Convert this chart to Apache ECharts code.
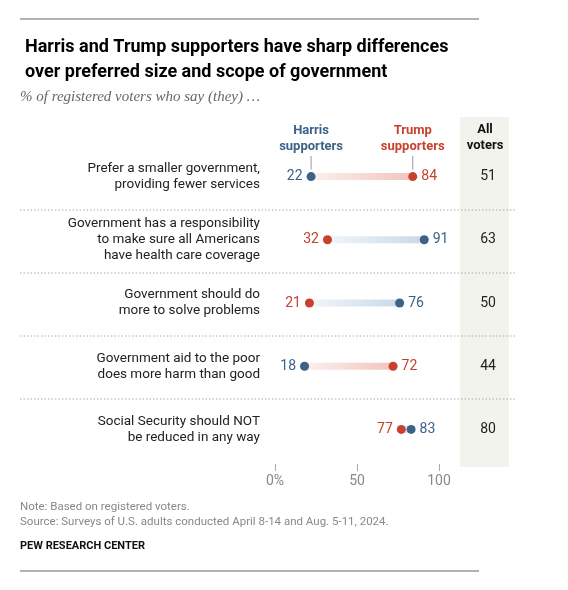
<!DOCTYPE html>
<html>
<head>
<meta charset="utf-8">
<script src="https://cdn.jsdelivr.net/npm/echarts@6/dist/echarts.min.js"></script>
<style>
  html, body { margin: 0; padding: 0; background: #fff; }
  #chart { width: 568px; height: 590px; }
</style>
</head>
<body>
<div id="chart"></div>
<script>
(function () {

    var statements = [
        'Prefer a smaller government,\nproviding fewer services',
        'Government has a responsibility\nto make sure all Americans\nhave health care coverage',
        'Government should do\nmore to solve problems',
        'Government aid to the poor\ndoes more harm than good',
        'Social Security should NOT\nbe reduced in any way'
    ];
    var harrisValues = [22, 91, 76, 18, 83];
    var trumpValues = [84, 32, 21, 72, 77];
    var allVoters = [51, 63, 50, 44, 80];
    var tickValues = [0, 50, 100];

    var BLUE = '#3b6287';
    var RED = '#c8412e';
    var FONT = 'Roboto, "Liberation Sans", sans-serif';

    var chart = echarts.init(document.getElementById('chart'));

    function dotData(values, others) {
        return values.map(function (v, i) {
            var onLeft = v < others[i];
            return {
                value: [v, i],
                label: {
                    position: onLeft ? 'left' : 'right',
                    distance: 4
                }
            };
        });
    }

    function renderGap(params, api) {
        var i = api.value(0);
        var h = harrisValues[i];
        var t = trumpValues[i];
        var lo = Math.min(h, t);
        var hi = Math.max(h, t);
        var p1 = api.coord([lo, i]);
        var p2 = api.coord([hi, i]);
        var rightColor = (hi === h) ? '#c9d9e6' : '#f2c4bd';
        var leftColor = (hi === h) ? 'rgba(201,217,230,0.25)' : 'rgba(242,196,189,0.25)';
        return {
            type: 'rect',
            shape: { x: p1[0], y: p1[1] - 3.5, width: p2[0] - p1[0], height: 7 },
            style: {
                fill: new echarts.graphic.LinearGradient(0, 0, 1, 0, [
                    { offset: 0, color: leftColor },
                    { offset: 1, color: rightColor }
                ])
            }
        };
    }

    function renderAll(params, api) {
        var i = api.value(0);
        var p = api.coord([0, i]);
        var cs = params.coordSys;
        return {
            type: 'text',
            style: {
                x: cs.x + cs.width + 49,
                y: p[1],
                text: String(allVoters[i]),
                align: 'center',
                verticalAlign: 'middle',
                fill: '#222',
                font: '14px ' + FONT
            }
        };
    }

    var staticGraphic = [
        { type: 'line', shape: { x1: 20, y1: 19, x2: 479, y2: 19 }, style: { stroke: '#999', lineWidth: 1.5 } },
        { type: 'line', shape: { x1: 20, y1: 571, x2: 479, y2: 571 }, style: { stroke: '#999', lineWidth: 1.5 } },
        { type: 'text', style: { x: 20, y: 97, text: '% of registered voters who say (they) …', verticalAlign: 'middle', fill: '#666', font: 'italic 15px "Liberation Serif", serif' } },
        { type: 'rect', z: -10, shape: { x: 460, y: 117, width: 49, height: 350 }, style: { fill: '#f3f3ee' } },
        { type: 'text', style: { x: 485, y: 122, text: 'All\nvoters', align: 'center', fill: '#111', font: 'bold 13px ' + FONT, lineHeight: 16 } },
        { type: 'text', style: { x: 20, y: 507, text: 'Note: Based on registered voters.', verticalAlign: 'middle', fill: '#888', font: '11.5px ' + FONT } },
        { type: 'text', style: { x: 20, y: 522, text: 'Source: Surveys of U.S. adults conducted April 8-14 and Aug. 5-11, 2024.', verticalAlign: 'middle', fill: '#888', font: '11.5px ' + FONT } },
        { type: 'text', style: { x: 20, y: 546, text: 'PEW RESEARCH CENTER', verticalAlign: 'middle', fill: '#111', font: 'bold 11px ' + FONT } }
    ];
    [210, 273, 336, 399].forEach(function (y) {
        staticGraphic.push({
            type: 'line', z: -5,
            shape: { x1: 20, y1: y, x2: 515, y2: y },
            style: { stroke: '#aaa', lineWidth: 1, lineDash: [1.5, 2] }
        });
    });

    var option = {
        animation: false,
        textStyle: { fontFamily: FONT },
        title: {
            left: 20,
            top: 30,
            text: 'Harris and Trump supporters have sharp differences\nover preferred size and scope of government',
            textStyle: { fontSize: 18, fontWeight: 'bold', color: '#000', lineHeight: 25, fontFamily: FONT }
        },
        grid: { left: 275, right: 129, top: 145, height: 316, containLabel: false },
        xAxis: {
            type: 'value',
            min: 0,
            max: 100,
            interval: 50,
            offset: 3,
            splitLine: { show: false },
            axisLine: { show: false },
            axisTick: { show: true, length: 7, lineStyle: { color: '#aaa' } },
            axisLabel: {
                color: '#888',
                fontSize: 14,
                margin: 10,
                formatter: function (v) {
                    if (tickValues.indexOf(v) < 0) return '';
                    return v === 0 ? '0%' : String(v);
                }
            }
        },
        yAxis: {
            type: 'category',
            inverse: true,
            data: statements,
            axisLine: { show: false },
            axisTick: { show: false },
            axisLabel: {
                margin: 15,
                color: '#222',
                fontSize: 13.5,
                lineHeight: 16,
                align: 'right'
            }
        },
        series: [
            {
                type: 'custom',
                renderItem: renderGap,
                data: statements.map(function (s, i) { return [i]; }),
                encode: { x: -1, y: 0 },
                z: 1
            },
            {
                type: 'custom',
                renderItem: renderAll,
                data: statements.map(function (s, i) { return [i]; }),
                encode: { x: -1, y: 0 },
                z: 1
            },
            {
                name: 'Harris supporters',
                type: 'scatter',
                symbolSize: 9,
                itemStyle: { color: BLUE, opacity: 1 },
                label: { show: true, color: BLUE, fontSize: 14, formatter: function (p) { return p.value[0]; } },
                data: dotData(harrisValues, trumpValues),
                z: 3
            },
            {
                name: 'Trump supporters',
                type: 'scatter',
                symbolSize: 9,
                itemStyle: { color: RED, opacity: 1 },
                label: { show: true, color: RED, fontSize: 14, formatter: function (p) { return p.value[0]; } },
                data: dotData(trumpValues, harrisValues),
                z: 3
            }
        ],
        graphic: staticGraphic
    };

    chart.setOption(option);

    // header labels above the first row, with leader lines down to the dots
    var hp = chart.convertToPixel({ gridIndex: 0 }, [harrisValues[0], 0]);
    var tp = chart.convertToPixel({ gridIndex: 0 }, [trumpValues[0], 0]);
    var headers = [
        { x: hp[0], text: 'Harris\nsupporters', color: BLUE },
        { x: tp[0], text: 'Trump\nsupporters', color: RED }
    ];
    var extra = staticGraphic.slice();
    headers.forEach(function (h) {
        extra.push({ type: 'text', style: { x: h.x, y: 123, text: h.text, align: 'center', fill: h.color, font: 'bold 13px ' + FONT, lineHeight: 16 } });
        extra.push({ type: 'line', shape: { x1: h.x, y1: 156, x2: h.x, y2: hp[1] - 7 }, style: { stroke: '#999', lineWidth: 1 } });
    });
    chart.setOption({ graphic: extra }, { replaceMerge: ['graphic'] });
})();
</script>
</body>
</html>
